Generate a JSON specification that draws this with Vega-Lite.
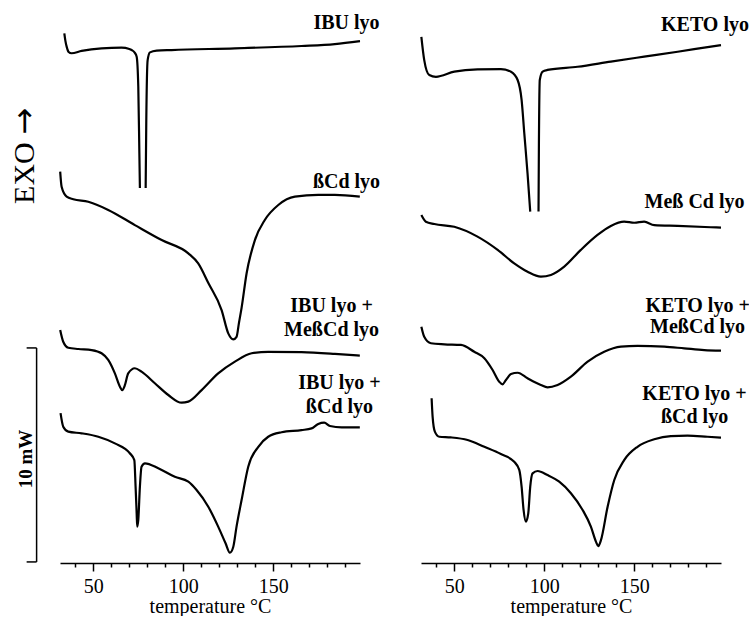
{
  "$schema": "https://vega.github.io/schema/vega-lite/v6.json",
  "background": "white",
  "padding": {"left": 8, "top": 13, "right": 0, "bottom": 0},
  "config": {"view": {"stroke": null}, "font": "Liberation Serif"},
  "spacing": 61,
  "bounds": "flush",
  "datasets": {
    "curves": [
      {"panel":"L","curve":"IBU lyo a","T":33.9,"mW":24.75},{"panel":"L","curve":"IBU lyo a","T":34.5,"mW":24.4},{"panel":"L","curve":"IBU lyo a","T":35.2,"mW":24.13},{"panel":"L","curve":"IBU lyo a","T":36.3,"mW":23.88},{"panel":"L","curve":"IBU lyo a","T":37.9,"mW":23.82},{"panel":"L","curve":"IBU lyo a","T":43.5,"mW":23.93},{"panel":"L","curve":"IBU lyo a","T":54.6,"mW":24.05},{"panel":"L","curve":"IBU lyo a","T":65.7,"mW":24.08},{"panel":"L","curve":"IBU lyo a","T":70.0,"mW":24.02},{"panel":"L","curve":"IBU lyo a","T":71.3,"mW":23.97},{"panel":"L","curve":"IBU lyo a","T":73.0,"mW":23.85},{"panel":"L","curve":"IBU lyo a","T":74.1,"mW":23.66},{"panel":"L","curve":"IBU lyo a","T":75.0,"mW":22.26},{"panel":"L","curve":"IBU lyo a","T":75.6,"mW":19.16},{"panel":"L","curve":"IBU lyo a","T":75.9,"mW":17.52},
      {"panel":"L","curve":"IBU lyo b","T":79.1,"mW":17.52},{"panel":"L","curve":"IBU lyo b","T":79.45,"mW":20.7},{"panel":"L","curve":"IBU lyo b","T":80.2,"mW":23.5},{"panel":"L","curve":"IBU lyo b","T":81.5,"mW":23.86},{"panel":"L","curve":"IBU lyo b","T":85.2,"mW":23.94},{"panel":"L","curve":"IBU lyo b","T":93.5,"mW":23.97},{"panel":"L","curve":"IBU lyo b","T":128.7,"mW":24.05},{"panel":"L","curve":"IBU lyo b","T":165.7,"mW":24.16},{"panel":"L","curve":"IBU lyo b","T":184.2,"mW":24.25},{"panel":"L","curve":"IBU lyo b","T":198.2,"mW":24.39},
      {"panel":"L","curve":"bCd lyo","T":31.6,"mW":18.29},{"panel":"L","curve":"bCd lyo","T":32.4,"mW":17.58},{"panel":"L","curve":"bCd lyo","T":35.2,"mW":17.12},{"panel":"L","curve":"bCd lyo","T":38.9,"mW":17.0},{"panel":"L","curve":"bCd lyo","T":47.2,"mW":16.88},{"panel":"L","curve":"bCd lyo","T":58.3,"mW":16.5},{"panel":"L","curve":"bCd lyo","T":73.1,"mW":15.79},{"panel":"L","curve":"bCd lyo","T":88.0,"mW":15.09},{"panel":"L","curve":"bCd lyo","T":102.8,"mW":14.47},{"panel":"L","curve":"bCd lyo","T":108.3,"mW":14.0},{"panel":"L","curve":"bCd lyo","T":114.0,"mW":13.07},{"panel":"L","curve":"bCd lyo","T":121.3,"mW":11.82},{"panel":"L","curve":"bCd lyo","T":125.0,"mW":10.73},{"panel":"L","curve":"bCd lyo","T":127.8,"mW":10.45},{"panel":"L","curve":"bCd lyo","T":129.6,"mW":10.57},{"panel":"L","curve":"bCd lyo","T":130.9,"mW":11.2},{"panel":"L","curve":"bCd lyo","T":132.4,"mW":11.92},{"panel":"L","curve":"bCd lyo","T":135.2,"mW":13.54},{"panel":"L","curve":"bCd lyo","T":139.8,"mW":15.09},{"panel":"L","curve":"bCd lyo","T":145.3,"mW":16.03},{"panel":"L","curve":"bCd lyo","T":152.8,"mW":16.73},{"panel":"L","curve":"bCd lyo","T":162.0,"mW":17.12},{"panel":"L","curve":"bCd lyo","T":175.0,"mW":17.2},{"panel":"L","curve":"bCd lyo","T":184.2,"mW":17.2},{"panel":"L","curve":"bCd lyo","T":198.1,"mW":17.12},
      {"panel":"L","curve":"IBU+MebCd","T":31.6,"mW":10.89},{"panel":"L","curve":"IBU+MebCd","T":33.3,"mW":10.34},{"panel":"L","curve":"IBU+MebCd","T":36.1,"mW":10.06},{"panel":"L","curve":"IBU+MebCd","T":41.7,"mW":10.0},{"panel":"L","curve":"IBU+MebCd","T":49.1,"mW":9.95},{"panel":"L","curve":"IBU+MebCd","T":54.6,"mW":9.8},{"panel":"L","curve":"IBU+MebCd","T":58.3,"mW":9.49},{"panel":"L","curve":"IBU+MebCd","T":62.0,"mW":8.86},{"panel":"L","curve":"IBU+MebCd","T":64.8,"mW":8.24},{"panel":"L","curve":"IBU+MebCd","T":66.1,"mW":8.08},{"panel":"L","curve":"IBU+MebCd","T":67.6,"mW":8.32},{"panel":"L","curve":"IBU+MebCd","T":69.4,"mW":8.86},{"panel":"L","curve":"IBU+MebCd","T":73.1,"mW":9.1},{"panel":"L","curve":"IBU+MebCd","T":76.8,"mW":8.94},{"panel":"L","curve":"IBU+MebCd","T":84.2,"mW":8.4},{"panel":"L","curve":"IBU+MebCd","T":91.7,"mW":7.85},{"panel":"L","curve":"IBU+MebCd","T":99.1,"mW":7.49},{"panel":"L","curve":"IBU+MebCd","T":102.8,"mW":7.54},{"panel":"L","curve":"IBU+MebCd","T":110.2,"mW":8.08},{"panel":"L","curve":"IBU+MebCd","T":119.4,"mW":8.86},{"panel":"L","curve":"IBU+MebCd","T":128.7,"mW":9.41},{"panel":"L","curve":"IBU+MebCd","T":138.0,"mW":9.8},{"panel":"L","curve":"IBU+MebCd","T":147.2,"mW":9.87},{"panel":"L","curve":"IBU+MebCd","T":165.7,"mW":9.85},{"panel":"L","curve":"IBU+MebCd","T":184.2,"mW":9.77},{"panel":"L","curve":"IBU+MebCd","T":198.1,"mW":9.69},
      {"panel":"L","curve":"IBU+bCd","T":31.8,"mW":7.0},{"panel":"L","curve":"IBU+bCd","T":33.3,"mW":6.37},{"panel":"L","curve":"IBU+bCd","T":36.1,"mW":6.14},{"panel":"L","curve":"IBU+bCd","T":43.5,"mW":6.06},{"panel":"L","curve":"IBU+bCd","T":52.8,"mW":5.9},{"panel":"L","curve":"IBU+bCd","T":62.0,"mW":5.59},{"panel":"L","curve":"IBU+bCd","T":70.3,"mW":5.13},{"panel":"L","curve":"IBU+bCd","T":72.8,"mW":4.81},{"panel":"L","curve":"IBU+bCd","T":73.5,"mW":3.57},{"panel":"L","curve":"IBU+bCd","T":74.1,"mW":2.32},{"panel":"L","curve":"IBU+bCd","T":74.4,"mW":1.7},{"panel":"L","curve":"IBU+bCd","T":75.0,"mW":2.01},{"panel":"L","curve":"IBU+bCd","T":75.9,"mW":3.57},{"panel":"L","curve":"IBU+bCd","T":76.8,"mW":4.5},{"panel":"L","curve":"IBU+bCd","T":78.7,"mW":4.66},{"panel":"L","curve":"IBU+bCd","T":86.1,"mW":4.43},{"panel":"L","curve":"IBU+bCd","T":95.3,"mW":4.03},{"panel":"L","curve":"IBU+bCd","T":102.8,"mW":3.8},{"panel":"L","curve":"IBU+bCd","T":107.4,"mW":3.41},{"panel":"L","curve":"IBU+bCd","T":113.9,"mW":2.63},{"panel":"L","curve":"IBU+bCd","T":119.4,"mW":1.7},{"panel":"L","curve":"IBU+bCd","T":123.5,"mW":0.92},{"panel":"L","curve":"IBU+bCd","T":125.9,"mW":0.48},{"panel":"L","curve":"IBU+bCd","T":127.8,"mW":0.76},{"panel":"L","curve":"IBU+bCd","T":129.6,"mW":1.7},{"panel":"L","curve":"IBU+bCd","T":132.4,"mW":2.94},{"panel":"L","curve":"IBU+bCd","T":136.1,"mW":4.5},{"panel":"L","curve":"IBU+bCd","T":141.7,"mW":5.43},{"panel":"L","curve":"IBU+bCd","T":147.2,"mW":5.9},{"panel":"L","curve":"IBU+bCd","T":154.6,"mW":6.11},{"panel":"L","curve":"IBU+bCd","T":165.7,"mW":6.21},{"panel":"L","curve":"IBU+bCd","T":171.3,"mW":6.29},{"panel":"L","curve":"IBU+bCd","T":175.0,"mW":6.5},{"panel":"L","curve":"IBU+bCd","T":178.3,"mW":6.56},{"panel":"L","curve":"IBU+bCd","T":181.5,"mW":6.4},{"panel":"L","curve":"IBU+bCd","T":188.0,"mW":6.34},{"panel":"L","curve":"IBU+bCd","T":198.1,"mW":6.34},
      {"panel":"R","curve":"KETO lyo a","T":31.7,"mW":24.59},{"panel":"R","curve":"KETO lyo a","T":33.3,"mW":23.5},{"panel":"R","curve":"KETO lyo a","T":36.1,"mW":22.8},{"panel":"R","curve":"KETO lyo a","T":39.8,"mW":22.72},{"panel":"R","curve":"KETO lyo a","T":50.0,"mW":22.96},{"panel":"R","curve":"KETO lyo a","T":62.9,"mW":23.07},{"panel":"R","curve":"KETO lyo a","T":75.9,"mW":23.08},{"panel":"R","curve":"KETO lyo a","T":81.5,"mW":22.96},{"panel":"R","curve":"KETO lyo a","T":85.2,"mW":22.57},{"panel":"R","curve":"KETO lyo a","T":87.4,"mW":21.64},{"panel":"R","curve":"KETO lyo a","T":88.9,"mW":20.08},{"panel":"R","curve":"KETO lyo a","T":90.7,"mW":18.21},{"panel":"R","curve":"KETO lyo a","T":92.2,"mW":16.42},
      {"panel":"R","curve":"KETO lyo b","T":96.8,"mW":16.42},{"panel":"R","curve":"KETO lyo b","T":97.0,"mW":19.3},{"panel":"R","curve":"KETO lyo b","T":97.5,"mW":22.57},{"panel":"R","curve":"KETO lyo b","T":99.1,"mW":22.96},{"panel":"R","curve":"KETO lyo b","T":101.8,"mW":23.04},{"panel":"R","curve":"KETO lyo b","T":118.5,"mW":23.19},{"panel":"R","curve":"KETO lyo b","T":137.0,"mW":23.43},{"panel":"R","curve":"KETO lyo b","T":155.5,"mW":23.66},{"panel":"R","curve":"KETO lyo b","T":174.1,"mW":23.89},{"panel":"R","curve":"KETO lyo b","T":192.6,"mW":24.13},{"panel":"R","curve":"KETO lyo b","T":198.2,"mW":24.2},
      {"panel":"R","curve":"MebCd lyo","T":31.7,"mW":16.26},{"panel":"R","curve":"MebCd lyo","T":34.2,"mW":15.95},{"panel":"R","curve":"MebCd lyo","T":38.9,"mW":15.84},{"panel":"R","curve":"MebCd lyo","T":50.0,"mW":15.71},{"panel":"R","curve":"MebCd lyo","T":62.9,"mW":15.25},{"panel":"R","curve":"MebCd lyo","T":74.1,"mW":14.63},{"panel":"R","curve":"MebCd lyo","T":83.3,"mW":14.0},{"panel":"R","curve":"MebCd lyo","T":90.7,"mW":13.61},{"panel":"R","curve":"MebCd lyo","T":98.1,"mW":13.38},{"panel":"R","curve":"MebCd lyo","T":103.7,"mW":13.46},{"panel":"R","curve":"MebCd lyo","T":111.1,"mW":13.85},{"panel":"R","curve":"MebCd lyo","T":120.3,"mW":14.63},{"panel":"R","curve":"MebCd lyo","T":129.6,"mW":15.33},{"panel":"R","curve":"MebCd lyo","T":137.0,"mW":15.75},{"panel":"R","curve":"MebCd lyo","T":144.4,"mW":15.95},{"panel":"R","curve":"MebCd lyo","T":150.0,"mW":15.9},{"panel":"R","curve":"MebCd lyo","T":155.5,"mW":15.95},{"panel":"R","curve":"MebCd lyo","T":161.1,"mW":15.79},{"panel":"R","curve":"MebCd lyo","T":174.1,"mW":15.75},{"panel":"R","curve":"MebCd lyo","T":192.6,"mW":15.69},{"panel":"R","curve":"MebCd lyo","T":198.2,"mW":15.67},
      {"panel":"R","curve":"KETO+MebCd","T":31.7,"mW":11.04},{"panel":"R","curve":"KETO+MebCd","T":33.3,"mW":10.57},{"panel":"R","curve":"KETO+MebCd","T":37.0,"mW":10.27},{"panel":"R","curve":"KETO+MebCd","T":44.5,"mW":10.22},{"panel":"R","curve":"KETO+MebCd","T":53.7,"mW":10.19},{"panel":"R","curve":"KETO+MebCd","T":61.1,"mW":9.87},{"panel":"R","curve":"KETO+MebCd","T":66.7,"mW":9.57},{"panel":"R","curve":"KETO+MebCd","T":71.3,"mW":9.02},{"panel":"R","curve":"KETO+MebCd","T":75.0,"mW":8.47},{"panel":"R","curve":"KETO+MebCd","T":76.8,"mW":8.35},{"panel":"R","curve":"KETO+MebCd","T":78.7,"mW":8.55},{"panel":"R","curve":"KETO+MebCd","T":81.5,"mW":8.83},{"panel":"R","curve":"KETO+MebCd","T":85.2,"mW":8.89},{"panel":"R","curve":"KETO+MebCd","T":90.7,"mW":8.63},{"panel":"R","curve":"KETO+MebCd","T":98.1,"mW":8.32},{"panel":"R","curve":"KETO+MebCd","T":101.8,"mW":8.21},{"panel":"R","curve":"KETO+MebCd","T":107.4,"mW":8.32},{"panel":"R","curve":"KETO+MebCd","T":114.8,"mW":8.71},{"panel":"R","curve":"KETO+MebCd","T":124.1,"mW":9.41},{"panel":"R","curve":"KETO+MebCd","T":133.3,"mW":9.87},{"panel":"R","curve":"KETO+MebCd","T":142.6,"mW":10.11},{"panel":"R","curve":"KETO+MebCd","T":151.8,"mW":10.15},{"panel":"R","curve":"KETO+MebCd","T":166.7,"mW":10.11},{"panel":"R","curve":"KETO+MebCd","T":177.8,"mW":10.03},{"panel":"R","curve":"KETO+MebCd","T":188.9,"mW":9.95},{"panel":"R","curve":"KETO+MebCd","T":198.2,"mW":9.92},
      {"panel":"R","curve":"KETO+bCd","T":37.4,"mW":7.7},{"panel":"R","curve":"KETO+bCd","T":37.95,"mW":6.84},{"panel":"R","curve":"KETO+bCd","T":39.2,"mW":6.14},{"panel":"R","curve":"KETO+bCd","T":41.7,"mW":5.9},{"panel":"R","curve":"KETO+bCd","T":48.1,"mW":5.87},{"panel":"R","curve":"KETO+bCd","T":57.4,"mW":5.75},{"panel":"R","curve":"KETO+bCd","T":66.7,"mW":5.43},{"panel":"R","curve":"KETO+bCd","T":75.9,"mW":5.09},{"panel":"R","curve":"KETO+bCd","T":83.3,"mW":4.73},{"panel":"R","curve":"KETO+bCd","T":86.1,"mW":4.35},{"panel":"R","curve":"KETO+bCd","T":87.4,"mW":3.57},{"panel":"R","curve":"KETO+bCd","T":88.5,"mW":2.48},{"panel":"R","curve":"KETO+bCd","T":89.8,"mW":1.93},{"panel":"R","curve":"KETO+bCd","T":91.1,"mW":2.32},{"panel":"R","curve":"KETO+bCd","T":92.2,"mW":3.57},{"panel":"R","curve":"KETO+bCd","T":93.5,"mW":4.19},{"panel":"R","curve":"KETO+bCd","T":96.3,"mW":4.3},{"panel":"R","curve":"KETO+bCd","T":101.8,"mW":4.11},{"panel":"R","curve":"KETO+bCd","T":108.3,"mW":3.8},{"panel":"R","curve":"KETO+bCd","T":114.8,"mW":3.26},{"panel":"R","curve":"KETO+bCd","T":121.3,"mW":2.48},{"panel":"R","curve":"KETO+bCd","T":125.9,"mW":1.7},{"panel":"R","curve":"KETO+bCd","T":128.7,"mW":1.0},{"panel":"R","curve":"KETO+bCd","T":130.0,"mW":0.79},{"panel":"R","curve":"KETO+bCd","T":131.5,"mW":1.07},{"panel":"R","curve":"KETO+bCd","T":135.2,"mW":2.63},{"panel":"R","curve":"KETO+bCd","T":138.9,"mW":3.88},{"panel":"R","curve":"KETO+bCd","T":144.4,"mW":4.81},{"panel":"R","curve":"KETO+bCd","T":151.8,"mW":5.43},{"panel":"R","curve":"KETO+bCd","T":161.1,"mW":5.78},{"panel":"R","curve":"KETO+bCd","T":170.3,"mW":5.93},{"panel":"R","curve":"KETO+bCd","T":179.6,"mW":5.95},{"panel":"R","curve":"KETO+bCd","T":190.7,"mW":5.9},{"panel":"R","curve":"KETO+bCd","T":198.2,"mW":5.86}
    ],
    "labels": [
      {"panel":"L","text":"IBU lyo","T":190.7,"mW":24.95},
      {"panel":"L","text":"ßCd lyo","T":190.7,"mW":17.52},
      {"panel":"L","text":"IBU lyo +","T":182.4,"mW":11.73},
      {"panel":"L","text":"MeßCd lyo","T":182.4,"mW":10.61},
      {"panel":"L","text":"IBU lyo +","T":186.8,"mW":8.13},
      {"panel":"L","text":"ßCd lyo","T":186.8,"mW":7.01},
      {"panel":"R","text":"KETO lyo","T":189.3,"mW":24.86},
      {"panel":"R","text":"Meß Cd lyo","T":183.5,"mW":16.59},
      {"panel":"R","text":"KETO lyo +","T":185.2,"mW":11.74},
      {"panel":"R","text":"MeßCd lyo","T":185.2,"mW":10.75},
      {"panel":"R","text":"KETO lyo +","T":183.5,"mW":7.62},
      {"panel":"R","text":"ßCd lyo","T":183.5,"mW":6.54}
    ],
    "bracket": [
      {"T":18.5,"T2":18.5,"mW":0.05,"mW2":10.05},
      {"T":12.96,"T2":18.5,"mW":10.05,"mW2":10.05},
      {"T":12.96,"T2":18.5,"mW":0.05,"mW2":0.05}
    ]
  },
  "hconcat": [
    {
      "width": 300,
      "height": 535,
      "encoding": {
        "x": {"field": "T", "type": "quantitative", "scale": {"domain": [31.5, 198.2], "nice": false, "zero": false},
          "axis": {"title": "temperature °C", "values": [40,50,60,70,80,90,100,110,120,130,140,150,160,170,180,190],
            "labelExpr": "datum.value % 50 === 0 ? datum.label : ''",
            "tickSize": {"condition": {"test": "datum.value % 50 === 0", "value": 8}, "value": 4},
            "grid": false, "domainColor": "black", "domainWidth": 1.5, "tickColor": "black", "tickWidth": 1.5,
            "labelFont": "Liberation Serif", "labelFontSize": 20, "labelColor": "black", "labelPadding": 5, "labelFlush": false,
            "titleFont": "Liberation Serif", "titleFontSize": 20, "titleFontWeight": "normal", "titleColor": "black", "titlePadding": 0}},
        "y": {"field": "mW", "type": "quantitative", "scale": {"domain": [0, 25], "nice": false, "zero": false}, "axis": null}
      },
      "layer": [
        {"data": {"name": "curves"}, "transform": [{"filter": "datum.panel === 'L'"}],
          "mark": {"type": "line", "color": "black", "strokeWidth": 2.2, "interpolate": "monotone"},
          "encoding": {"detail": {"field": "curve"}}},
        {"data": {"name": "labels"}, "transform": [{"filter": "datum.panel === 'L'"}],
          "mark": {"type": "text", "font": "Liberation Serif", "fontWeight": "bold", "fontSize": 20, "align": "center", "baseline": "alphabetic", "color": "black"},
          "encoding": {"text": {"field": "text"}}},
        {"data": {"name": "bracket"},
          "mark": {"type": "rule", "color": "black", "strokeWidth": 1.5},
          "encoding": {"x2": {"field": "T2"}, "y2": {"field": "mW2"}}},
        {"data": {"values": [{"note": "EXO", "T": 11.8, "mW": 18.22}]},
          "mark": {"type": "text", "font": "Liberation Serif", "fontSize": 30, "angle": 270, "align": "center", "baseline": "middle", "color": "black"},
          "encoding": {"text": {"field": "note"}}},
        {"data": {"values": [{"note": "→", "T": 11.8, "mW": 20.65}]},
          "mark": {"type": "text", "font": "DejaVu Sans", "fontSize": 32, "angle": 270, "align": "center", "baseline": "middle", "color": "black"},
          "encoding": {"text": {"field": "note"}}},
        {"data": {"values": [{"note": "10 mW", "T": 12.67, "mW": 4.86}]},
          "mark": {"type": "text", "font": "Liberation Serif", "fontSize": 19, "fontWeight": "bold", "angle": 270, "align": "center", "baseline": "middle", "color": "black"},
          "encoding": {"text": {"field": "note"}}}
      ]
    },
    {
      "width": 300,
      "height": 535,
      "encoding": {
        "x": {"field": "T", "type": "quantitative", "scale": {"domain": [31.5, 198.2], "nice": false, "zero": false},
          "axis": {"title": "temperature °C", "values": [40,50,60,70,80,90,100,110,120,130,140,150,160,170,180,190],
            "labelExpr": "datum.value % 50 === 0 ? datum.label : ''",
            "tickSize": {"condition": {"test": "datum.value % 50 === 0", "value": 8}, "value": 4},
            "grid": false, "domainColor": "black", "domainWidth": 1.5, "tickColor": "black", "tickWidth": 1.5,
            "labelFont": "Liberation Serif", "labelFontSize": 20, "labelColor": "black", "labelPadding": 5, "labelFlush": false,
            "titleFont": "Liberation Serif", "titleFontSize": 20, "titleFontWeight": "normal", "titleColor": "black", "titlePadding": 0}},
        "y": {"field": "mW", "type": "quantitative", "scale": {"domain": [0, 25], "nice": false, "zero": false}, "axis": null}
      },
      "layer": [
        {"data": {"name": "curves"}, "transform": [{"filter": "datum.panel === 'R'"}],
          "mark": {"type": "line", "color": "black", "strokeWidth": 2.2, "interpolate": "monotone"},
          "encoding": {"detail": {"field": "curve"}}},
        {"data": {"name": "labels"}, "transform": [{"filter": "datum.panel === 'R'"}],
          "mark": {"type": "text", "font": "Liberation Serif", "fontWeight": "bold", "fontSize": 20, "align": "center", "baseline": "alphabetic", "color": "black"},
          "encoding": {"text": {"field": "text"}}}
      ]
    }
  ]
}
